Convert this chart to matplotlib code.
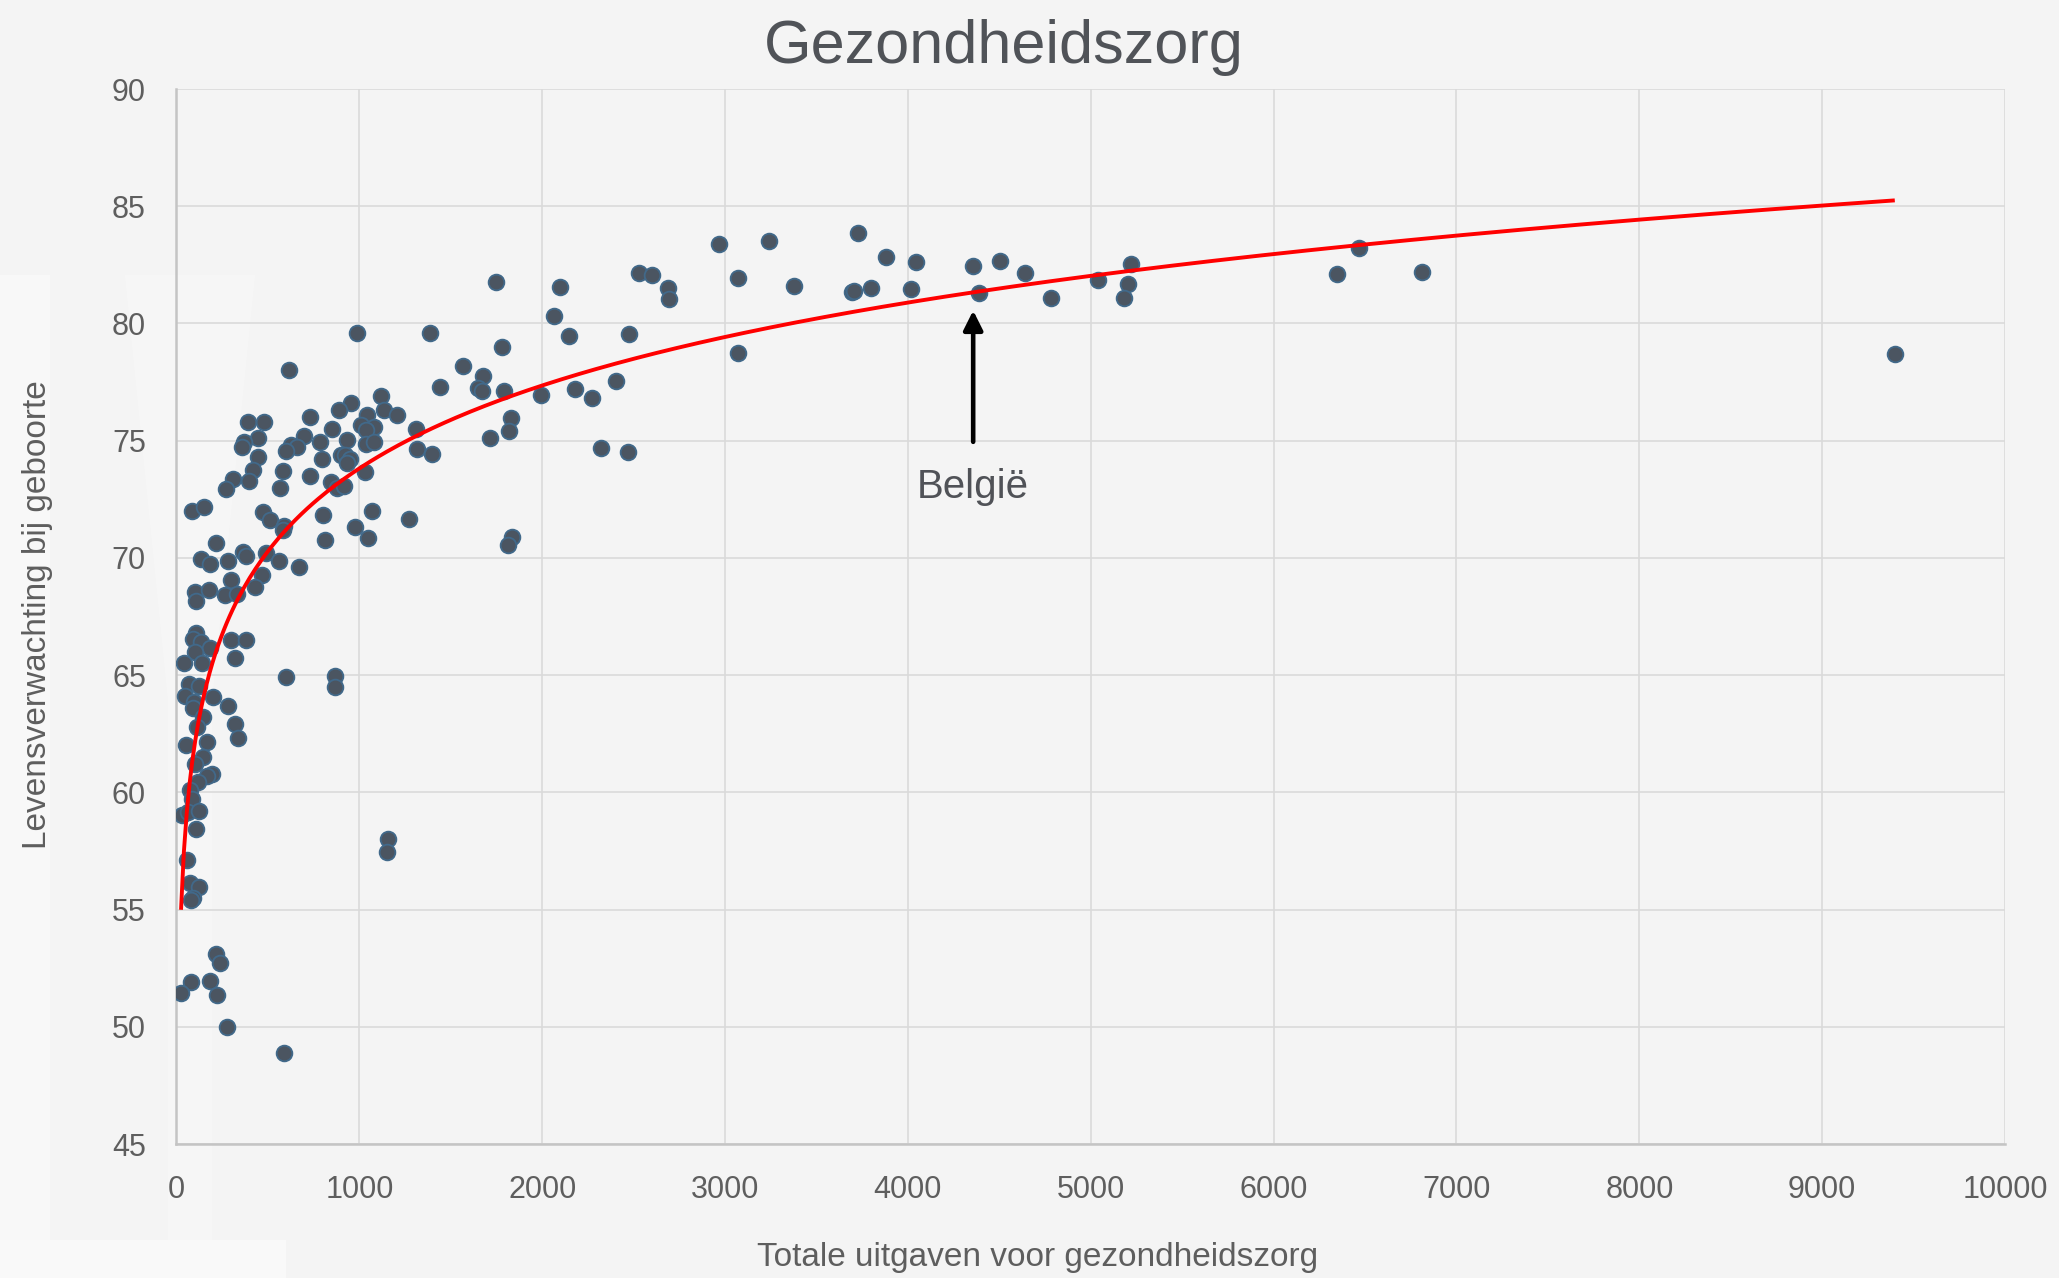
import numpy as np
import matplotlib
matplotlib.use("Agg")
import matplotlib.pyplot as plt
from matplotlib.patches import Polygon

# ---- data ----
uitgaven = [
    989, 1388, 613, 1441, 1120, 956, 887, 1133, 1207, 1040,
    730, 389, 477, 1007, 1080, 1036, 848, 1311, 444, 369,
    360, 699, 785, 930, 628, 657, 597, 1036, 1080, 1317,
    1399, 446, 796, 898, 923, 949, 934, 416, 580, 311,
    398, 1031, 730, 269, 564, 845, 876, 916, 85, 149,
    471, 513, 803, 1067, 1269, 588, 580, 978, 1047, 810,
    214, 136, 185, 280, 362, 378, 488, 562, 668, 469,
    298, 431, 99, 180, 265, 329,
    107, 105, 92, 132, 183, 298, 380, 101, 138, 41,
    320, 597, 868, 868, 70, 125, 47, 94, 92, 201,
    280, 147, 110, 322, 338, 52, 169, 143, 101, 196,
    165, 119, 74, 87, 28, 65, 125, 107, 1158, 1149, 56,
    74, 125, 88, 77, 216, 238, 79, 25, 185, 221, 274, 588,
    1749, 2097, 2062, 2529, 2598, 2689, 2696, 3072, 3376, 3697,
    2146, 2474, 1778, 3072, 1568, 1678, 1650, 1669, 1791, 1993,
    2177, 2272, 2403, 1827, 1816, 1716, 2319, 2467, 1836, 1814,
    2965, 3238,
    3728, 3881, 4047, 3704, 3800, 4017, 4356, 4506, 4641, 4391,
    4781, 5038, 5218, 5202, 5182, 6346,
    6469, 6812, 9397,
]
levensverwachting = [
    79.6, 79.6, 78.0, 77.3, 76.9, 76.6, 76.3, 76.3, 76.1, 76.1,
    76.0, 75.8, 75.8, 75.65, 75.6, 75.45, 75.5, 75.5, 75.1, 74.95,
    74.75, 75.2, 74.95, 75.05, 74.8, 74.75, 74.55, 74.85, 74.95, 74.65,
    74.45, 74.3, 74.2, 74.4, 74.4, 74.2, 74.05, 73.75, 73.7, 73.35,
    73.3, 73.65, 73.5, 72.95, 73.0, 73.25, 73.0, 73.05, 72.0, 72.15,
    71.95, 71.6, 71.85, 72.0, 71.65, 71.35, 71.2, 71.3, 70.85, 70.75,
    70.65, 69.95, 69.75, 69.85, 70.25, 70.1, 70.2, 69.85, 69.6, 69.25,
    69.05, 68.75, 68.55, 68.65, 68.4, 68.45,
    68.15, 66.8, 66.55, 66.4, 66.15, 66.5, 66.5, 66.0, 65.5, 65.5,
    65.75, 64.9, 64.95, 64.5, 64.6, 64.55, 64.1, 63.85, 63.6, 64.05,
    63.7, 63.2, 62.8, 62.9, 62.3, 62.0, 62.15, 61.5, 61.2, 60.8,
    60.7, 60.45, 60.1, 59.7, 59.05, 59.15, 59.2, 58.45, 58.0, 57.45, 57.1,
    56.15, 55.95, 55.5, 55.4, 53.1, 52.7, 51.9, 51.45, 51.95, 51.35, 50.0, 48.9,
    81.75, 81.55, 80.3, 82.15, 82.05, 81.5, 81.05, 81.95, 81.6, 81.35,
    79.45, 79.55, 79.0, 78.75, 78.2, 77.75, 77.25, 77.1, 77.1, 76.95,
    77.2, 76.8, 77.55, 75.95, 75.4, 75.1, 74.7, 74.5, 70.9, 70.55,
    83.4, 83.5,
    83.85, 82.85, 82.6, 81.4, 81.5, 81.45, 82.45, 82.65, 82.15, 81.3,
    81.1, 81.85, 82.55, 81.7, 81.1, 82.1,
    83.2, 82.2, 78.7,
]
x_ticks = [0, 1000, 2000, 3000, 4000, 5000, 6000, 7000, 8000, 9000, 10000]
y_ticks = [45, 50, 55, 60, 65, 70, 75, 80, 85, 90]
belgie_x = 4357
belgie_arrow = (74.95, 80.55)
belgie_label_y = 72.57

title = "Gezondheidszorg"
xlabel = "Totale uitgaven voor gezondheidszorg"
ylabel = "Levensverwachting bij geboorte"

# ---- style ----
plt.rcParams['font.family'] = ['Liberation Sans', 'DejaVu Sans']
BG = '#f4f4f4'
TXT = '#5e5e5e'
W, H = 2059, 1278

fig = plt.figure(figsize=(W / 100, H / 100), dpi=100, facecolor=BG)

# faint white watermark shapes in the background (pixel coords, y down)
def px_poly(pts, alpha):
    xy = [(px / W, 1 - py / H) for px, py in pts]
    fig.patches.append(Polygon(xy, closed=True, transform=fig.transFigure,
                               facecolor='white', edgecolor='none',
                               alpha=alpha, zorder=0))

px_poly([(0, 275), (50, 275), (50, 1240), (0, 1240)], 0.45)
px_poly([(125, 275), (255, 275), (212, 700), (212, 1240), (168, 1240),
         (168, 700)], 0.25)
px_poly([(0, 1240), (286, 1240), (286, 1278), (0, 1278)], 0.5)

ax = fig.add_axes([0.0857, 0.10485, 0.8881, 0.8255])
ax.set_zorder(2)
ax.set_facecolor('none')

x = np.array(uitgaven, dtype=float)
y = np.array(levensverwachting, dtype=float)

# logarithmic trendline fitted on the data
a, b = np.polyfit(np.log(x), y, 1)
xt = np.linspace(x.min(), x.max(), 600)
ax.plot(xt, a * np.log(xt) + b, color='#ff0000', lw=2.8, zorder=4,
        solid_capstyle='butt')

ax.scatter(x, y, s=128, facecolor='#4b5561', edgecolor='#41698a',
           linewidth=1.3, zorder=3)

ax.set_xlim(0, 10000)
ax.set_ylim(45, 90)
ax.set_xticks(x_ticks)
ax.set_yticks(y_ticks)
ax.grid(True, color='#dadada', lw=1.2, zorder=0)
ax.set_axisbelow(True)
ax.tick_params(length=0, pad=22, labelsize=22, labelcolor=TXT)
for side in ['top', 'right']:
    ax.spines[side].set_visible(False)
for side in ['left', 'bottom']:
    ax.spines[side].set_color('#c4c4c4')
    ax.spines[side].set_linewidth(1.8)

ax.annotate('', xy=(belgie_x, belgie_arrow[1]), xytext=(belgie_x, belgie_arrow[0]),
            arrowprops=dict(arrowstyle='-|>', color='black', lw=3.3,
                            mutation_scale=29, shrinkA=0, shrinkB=0),
            zorder=5)
ax.text(belgie_x, belgie_label_y, "België", ha='center', va='baseline',
        fontsize=29, color='#505257')

fig.text(0.4876, 0.9507, title, ha='center', va='baseline', fontsize=44,
         color='#505358', zorder=3)
fig.text(0.504, 0.0095, xlabel, ha='center', va='baseline', fontsize=24,
         color=TXT, zorder=3)
fig.text(0.018, 0.519, ylabel, ha='center', va='center', rotation=90,
         fontsize=24, color=TXT, zorder=3)

fig.savefig('out.png', dpi=100, facecolor=BG)
